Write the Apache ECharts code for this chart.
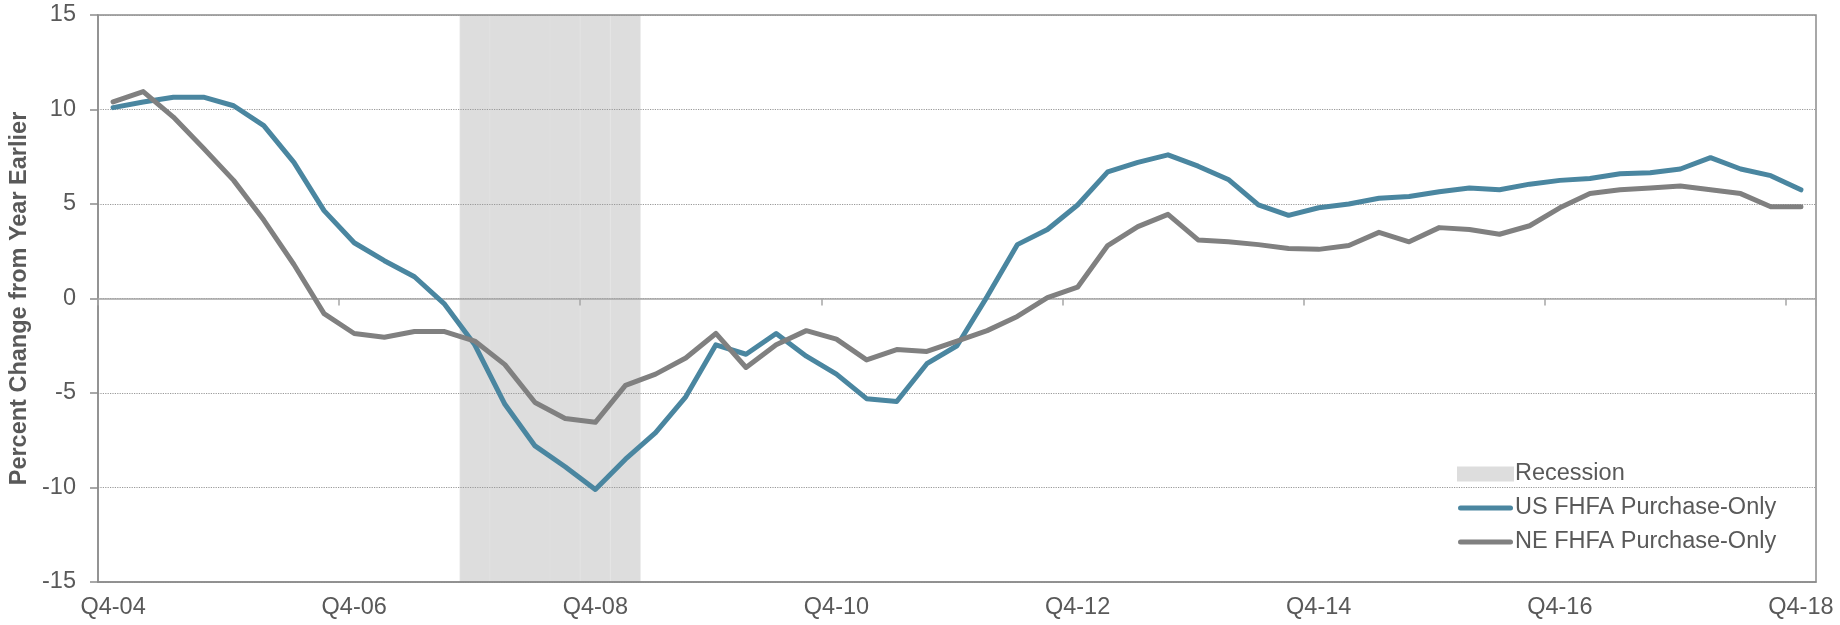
<!DOCTYPE html>
<html>
<head>
<meta charset="utf-8">
<script src="https://cdn.jsdelivr.net/npm/echarts@6/dist/echarts.min.js"></script>
<style>
    html, body { margin: 0; padding: 0; background: #fff; }
    #hpiChart { width: 1840px; height: 625px; }
</style>
</head>
<body>
<div id="hpiChart"></div>
<script>
// quarters, Q4-04 .. Q4-18
const quarters = [
    'Q4-04', 'Q1-05', 'Q2-05', 'Q3-05', 'Q4-05', 'Q1-06', 'Q2-06', 'Q3-06',
    'Q4-06', 'Q1-07', 'Q2-07', 'Q3-07', 'Q4-07', 'Q1-08', 'Q2-08', 'Q3-08',
    'Q4-08', 'Q1-09', 'Q2-09', 'Q3-09', 'Q4-09', 'Q1-10', 'Q2-10', 'Q3-10',
    'Q4-10', 'Q1-11', 'Q2-11', 'Q3-11', 'Q4-11', 'Q1-12', 'Q2-12', 'Q3-12',
    'Q4-12', 'Q1-13', 'Q2-13', 'Q3-13', 'Q4-13', 'Q1-14', 'Q2-14', 'Q3-14',
    'Q4-14', 'Q1-15', 'Q2-15', 'Q3-15', 'Q4-15', 'Q1-16', 'Q2-16', 'Q3-16',
    'Q4-16', 'Q1-17', 'Q2-17', 'Q3-17', 'Q4-17', 'Q1-18', 'Q2-18', 'Q3-18',
    'Q4-18'
];

const usFhfa = [
    10.1, 10.4, 10.65, 10.65, 10.2, 9.15, 7.2, 4.65,
    2.95, 2.0, 1.15, -0.3, -2.45, -5.6, -7.8, -8.9,
    -10.1, -8.5, -7.1, -5.2, -2.45, -2.95, -1.85, -3.05,
    -4.0, -5.3, -5.45, -3.45, -2.5, 0.1, 2.85, 3.65,
    4.95, 6.7, 7.2, 7.6, 7.0, 6.3, 4.95, 4.4,
    4.8, 5.0, 5.3, 5.4, 5.65, 5.85, 5.75, 6.05,
    6.25, 6.35, 6.6, 6.65, 6.85, 7.45, 6.85, 6.5,
    5.75
];

const neFhfa = [
    10.4, 10.95, 9.6, 7.95, 6.25, 4.15, 1.8, -0.8,
    -1.85, -2.05, -1.75, -1.75, -2.25, -3.5, -5.5, -6.35,
    -6.55, -4.6, -4.0, -3.15, -1.85, -3.65, -2.45, -1.7,
    -2.15, -3.25, -2.7, -2.8, -2.25, -1.7, -0.95, 0.05,
    0.6, 2.8, 3.8, 4.45, 3.1, 3.0, 2.85, 2.65,
    2.6, 2.8, 3.5, 3.0, 3.75, 3.65, 3.4, 3.85,
    4.8, 5.55, 5.75, 5.85, 5.95, 5.75, 5.55, 4.85,
    4.85
];

const recessionStart = 'Q4-07';
const recessionEnd = 'Q1-09';
const yTicks = [-15, -10, -5, 0, 5, 10, 15];

const font = 'Arial, "Liberation Sans", sans-serif';
const textGray = '#595959';
const usColor = '#4a86a0';
const neColor = '#808080';
const recColor = '#dddddd';

// rounded bar used as legend icon for the two lines
const lineIcon = 'path://M2.5,0 L52.5,0 A2.5,2.5 0 0 1 52.5,5 L2.5,5 A2.5,2.5 0 0 1 2.5,0 Z';

let myChart = echarts.init(document.getElementById('hpiChart'));

// shading bars: full height over the recession quarters
const i0 = quarters.indexOf(recessionStart);
const i1 = quarters.indexOf(recessionEnd);
const recUp = quarters.map((q, i) => (i >= i0 && i <= i1 ? yTicks[yTicks.length - 1] : null));
const recDown = quarters.map((q, i) => (i >= i0 && i <= i1 ? yTicks[0] : null));

const recBar = {
    name: 'Recession',
    type: 'bar',
    stack: 'rec',
    z: -1,
    barCategoryGap: '0%',
    itemStyle: { color: recColor, borderColor: recColor, borderWidth: 1 },
    emphasis: { disabled: true }
};

const option = {
    animation: false,
    textStyle: { fontFamily: font },
    grid: {
        left: 98,
        right: 24,
        top: 15,
        bottom: 43,
        show: true,
        borderColor: '#8c8c8c',
        borderWidth: 1.5,
        outerBoundsMode: 'none'
    },
    legend: {
        left: 1452,
        top: 457,
        orient: 'vertical',
        itemWidth: 55,
        itemHeight: 13,
        itemGap: 10,
        textStyle: { color: textGray, fontSize: 23.5, fontFamily: font, padding: [0, 0, 0, -3] },
        data: [
            { name: 'Recession', icon: 'rect' },
            { name: 'US FHFA Purchase-Only', icon: lineIcon },
            { name: 'NE FHFA Purchase-Only', icon: lineIcon }
        ]
    },
    xAxis: [
        {
            type: 'category',
            data: quarters,
            boundaryGap: true,
            axisLine: { onZero: false, lineStyle: { color: '#8c8c8c', width: 1.5 } },
            axisTick: { show: false },
            axisLabel: { interval: 7, color: textGray, fontSize: 23.5, margin: 14 },
            splitLine: { show: false }
        },
        {
            // the zero line with its ticks
            type: 'category',
            data: quarters,
            position: 'bottom',
            boundaryGap: true,
            axisLine: { onZero: true, lineStyle: { color: '#a6a6a6', width: 1.5 } },
            axisTick: { show: true, interval: 7, length: 7, lineStyle: { color: '#a6a6a6', width: 1.5 } },
            axisLabel: { show: false },
            splitLine: { show: false }
        }
    ],
    yAxis: {
        type: 'value',
        min: -15,
        max: 15,
        interval: 5,
        axisLine: { show: true, lineStyle: { color: '#8c8c8c', width: 1.5 } },
        axisTick: { show: true, length: 8, lineStyle: { color: '#8c8c8c', width: 1.5 } },
        axisLabel: { color: textGray, fontSize: 23.5, margin: 22 },
        splitLine: { show: true, lineStyle: { color: '#999', type: 'dotted', width: 1.2 } },
        name: 'Percent Change from Year Earlier',
        nameLocation: 'middle',
        nameGap: 66,
        nameTextStyle: { color: textGray, fontSize: 23.5, fontWeight: 'bold', fontFamily: font }
    },
    series: [
        Object.assign({ data: recUp }, recBar),
        Object.assign({ data: recDown }, recBar),
        {
            name: 'US FHFA Purchase-Only',
            type: 'line',
            symbol: 'none',
            lineStyle: { color: usColor, width: 5, cap: 'round', join: 'round' },
            itemStyle: { color: usColor },
            data: usFhfa
        },
        {
            name: 'NE FHFA Purchase-Only',
            type: 'line',
            symbol: 'none',
            lineStyle: { color: neColor, width: 5, cap: 'round', join: 'round' },
            itemStyle: { color: neColor },
            data: neFhfa
        }
    ]
};
myChart.setOption(option);
</script>
</body>
</html>
